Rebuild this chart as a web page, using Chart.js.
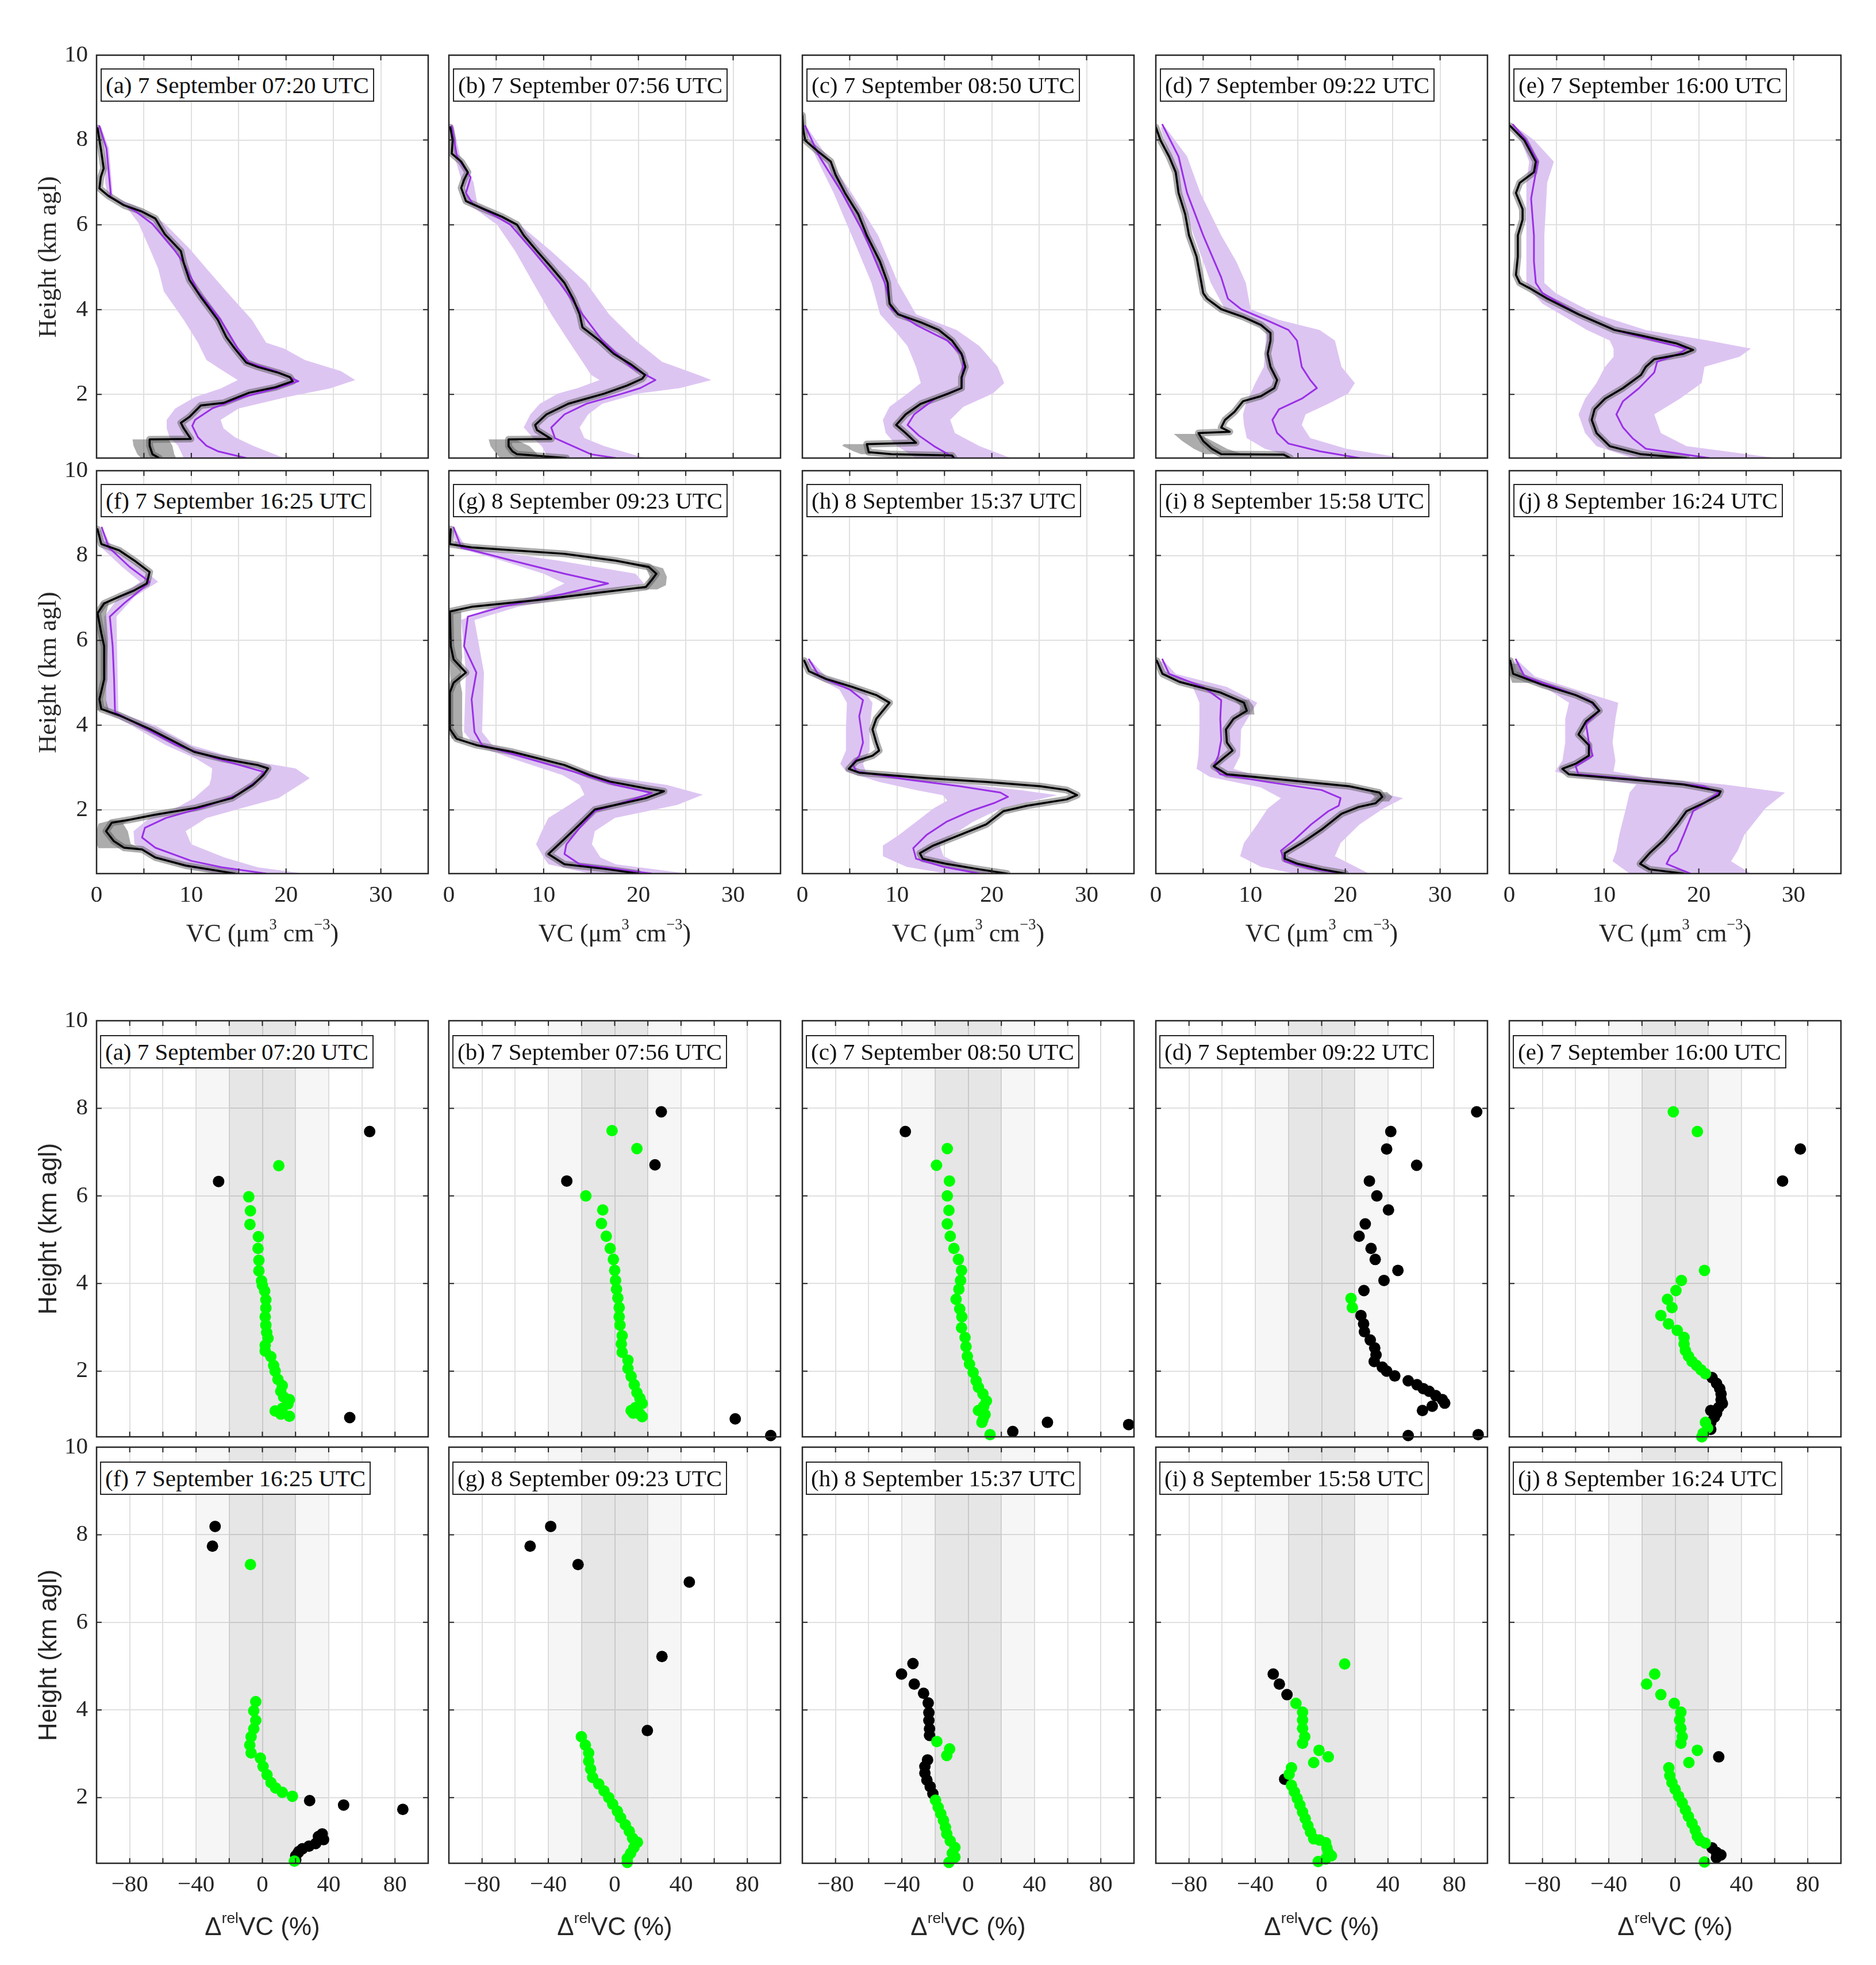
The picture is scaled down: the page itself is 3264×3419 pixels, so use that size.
<!DOCTYPE html>
<html>
<head>
<meta charset="utf-8">
<script src="https://cdn.jsdelivr.net/npm/chart.js@4.4.1/dist/chart.umd.min.js"></script>
<style>
html,body{margin:0;padding:0;background:#fff;}
body{position:relative;width:3264px;height:3419px;overflow:hidden;}
canvas{position:absolute;}
.tbox{position:absolute;z-index:5;background:#fff;border:2px solid #262626;font-family:"Liberation Serif",serif;font-size:41px;line-height:54px;padding:0 7px;white-space:nowrap;color:#111;}
.ytitle{position:absolute;z-index:5;width:700px;height:60px;line-height:60px;text-align:center;font-size:44px;color:#262626;transform:rotate(-90deg);white-space:nowrap;}
.xtitle{position:absolute;z-index:5;height:70px;line-height:70px;text-align:center;font-size:44px;color:#262626;white-space:nowrap;}
.serif{font-family:"Liberation Serif",serif;}
.sans{font-family:"Liberation Sans",sans-serif;}
sup{font-size:0.6em;vertical-align:0;position:relative;top:-0.8em;line-height:0;}
</style>
</head>
<body>
<script>
// ---------------- DATA ----------------
const LABELS = ['(a) 7 September 07:20 UTC','(b) 7 September 07:56 UTC','(c) 7 September 08:50 UTC','(d) 7 September 09:22 UTC','(e) 7 September 16:00 UTC','(f) 7 September 16:25 UTC','(g) 8 September 09:23 UTC','(h) 8 September 15:37 UTC','(i) 8 September 15:58 UTC','(j) 8 September 16:24 UTC'];

const TOP_X_GRID = [0,5,10,15,20,25,30,35];
const TOP_X_LABELS = [0,10,20,30];
const BOT_X_GRID = [-100,-80,-60,-40,-20,0,20,40,60,80,100];
const BOT_X_LABELS = [-80,-40,0,40,80];
const Y_TICKS = [2,4,6,8,10];
const Y_MIN = 0.5, Y_MAX = 10;
const BAND_OUTER = [-40,40];
const BAND_INNER = [-20,20];

// profiles: [height km, VC]
const A_BLACK = [[0.5,6.6],[0.59,5.9],[0.79,5.6],[0.94,5.6],[0.95,9.95],[1.2,9.2],[1.33,8.9],[1.47,9.8],[1.74,11.0],[1.8,13.4],[2.04,16.1],[2.17,18.9],[2.31,20.7],[2.41,20.4],[2.51,19.2],[2.65,17.0],[2.75,15.8],[3.08,14.6],[3.35,13.7],[3.76,12.8],[4.3,11.0],[4.7,9.8],[5.1,9.2],[5.38,8.9],[5.78,7.2],[6.15,6.2],[6.32,4.7],[6.46,2.9],[6.69,1.2],[6.86,0.3],[7.13,0.45],[7.33,0.75],[7.8,0.45],[8.28,0.1]];
const A_PURPLE = [[0.5,15.8],[0.66,12.8],[0.79,11.6],[0.99,10.7],[1.26,10.1],[1.4,10.4],[1.67,12.2],[1.94,15.5],[2.14,18.9],[2.31,21.3],[2.55,18.9],[2.75,16.1],[3.08,14.9],[3.76,13.1],[4.43,10.7],[5.1,9.2],[5.38,8.3],[6.02,5.9],[6.32,4.1],[6.66,1.35],[6.73,1.5],[7.8,1.05],[8.33,0.3]];
const A_BAND = [[0.5,9.2,19.8],[0.79,8.6,16.5],[0.99,7.7,14.6],[1.2,7.4,13.4],[1.4,7.4,13.1],[1.67,8.3,15.0],[1.94,10.4,20.1],[2.14,13.1,24.6],[2.34,14.9,27.3],[2.55,13.4,25.8],[2.81,11.6,22.0],[3.08,11.0,19.8],[3.22,10.7,17.9],[3.76,9.2,16.4],[4.43,7.1,13.7],[4.97,6.5,11.6],[5.44,5.6,9.8],[6.05,4.4,7.1],[6.46,3.0,4.0],[6.66,1.2,1.7],[7.0,0.9,1.6],[7.8,0.8,1.3],[8.3,0.1,0.5]];
const A_GRAY = [[[0.5,4.7,8.4],[0.59,4.3,8.2],[0.79,3.9,8.0],[0.94,3.8,7.6]]];

const B_BLACK = [[0.5,12.4],[0.59,7.2],[0.66,6.7],[0.78,6.3],[0.94,6.3],[0.95,10.8],[1.16,9.3],[1.28,9.1],[1.53,10.3],[1.78,12.6],[2.02,16.4],[2.21,18.8],[2.37,20.4],[2.46,20.7],[2.71,19.2],[2.96,17.4],[3.27,15.9],[3.58,14.1],[3.89,13.8],[4.26,13.1],[4.63,12.2],[5.0,10.8],[5.38,9.3],[5.75,7.9],[6.0,7.2],[6.19,5.6],[6.37,3.7],[6.56,1.8],[6.87,1.3],[7.06,1.6],[7.24,2.0],[7.49,1.3],[7.68,0.3],[7.99,0.4],[8.3,0.15]];
const B_PURPLE = [[0.5,17.6],[0.59,15.0],[0.78,13.1],[0.97,11.2],[1.22,10.8],[1.53,12.2],[1.78,14.5],[2.02,18.3],[2.15,20.2],[2.34,21.8],[2.65,19.2],[3.27,16.2],[3.89,14.1],[4.63,11.7],[5.38,8.9],[6.0,6.5],[6.25,4.6],[6.5,2.5],[6.75,1.8],[7.12,2.3],[7.61,0.85],[8.33,0.3]];
const B_BAND = [[0.5,10.5,20.7],[0.78,9.8,16.4],[0.97,8.9,14.3],[1.22,7.9,13.8],[1.53,8.6,14.7],[1.78,9.6,16.2],[2.02,11.5,20.0],[2.15,13.6,24.4],[2.34,15.9,27.7],[2.46,15.0,26.3],[2.77,14.1,22.5],[3.27,12.6,19.7],[3.89,10.8,16.9],[4.63,8.9,14.5],[5.38,7.0,10.8],[6.0,5.1,7.5],[6.5,2.0,3.0],[7.0,1.4,2.6],[7.6,0.6,1.2],[8.3,0.1,0.5]];
const B_GRAY = [[[0.5,5.4,9.5],[0.6,5.0,9.3],[0.78,4.4,8.5],[0.94,4.2,7.0]]];

const C_BLACK = [[0.5,16.0],[0.56,15.8],[0.59,9.4],[0.64,7.0],[0.83,6.8],[0.86,12.0],[1.09,10.9],[1.28,9.9],[1.53,10.9],[1.78,12.5],[2.02,15.4],[2.15,16.8],[2.4,16.8],[2.65,17.2],[2.96,16.8],[3.27,15.8],[3.52,14.4],[3.7,12.5],[3.89,10.1],[4.14,9.2],[4.63,9.0],[5.13,8.2],[5.75,6.8],[6.25,5.9],[6.75,4.5],[7.18,3.5],[7.49,3.0],[7.74,1.6],[7.99,0.3],[8.24,0.1],[8.58,0.0]];
const C_PURPLE = [[0.5,16.1],[0.78,13.9],[1.03,12.3],[1.28,11.1],[1.53,11.8],[1.9,14.0],[2.15,16.8],[2.89,17.0],[3.27,15.3],[3.64,12.0],[4.01,9.4],[4.63,8.7],[5.75,6.6],[6.75,4.2],[7.61,1.8],[8.33,0.3]];
const C_BAND = [[0.5,12.0,22.0],[0.78,10.0,18.7],[1.09,8.8,16.1],[1.4,8.5,15.6],[1.71,9.2,17.0],[2.02,11.1,20.1],[2.27,12.5,21.3],[2.65,12.0,20.6],[3.14,11.1,18.7],[3.52,9.7,16.3],[3.89,8.2,12.0],[4.63,7.3,10.1],[5.75,5.2,8.0],[6.75,3.3,5.2],[7.61,1.4,2.6],[8.3,0.1,0.5]];
const C_GRAY = [[[0.59,6.2,7.2],[0.66,5.4,7.1],[0.79,4.2,7.0],[0.83,4.4,6.9]]];

const D_BLACK = [[0.5,14.2],[0.58,13.5],[0.59,6.9],[0.72,5.9],[0.9,5.0],[1.09,4.5],[1.12,7.8],[1.22,6.9],[1.4,7.3],[1.59,8.3],[1.84,9.2],[1.96,11.1],[2.15,12.5],[2.34,12.8],[2.65,12.1],[2.96,11.8],[3.27,12.1],[3.45,12.1],[3.64,11.1],[3.83,9.2],[4.01,6.9],[4.26,5.4],[4.39,5.0],[4.76,4.7],[5.25,4.3],[5.75,3.5],[6.25,3.1],[6.75,2.4],[7.24,2.1],[7.61,1.4],[7.99,0.5],[8.3,0.0]];
const D_PURPLE = [[0.5,21.5],[0.66,17.3],[0.84,14.0],[1.09,12.8],[1.4,12.3],[1.65,13.0],[1.9,15.4],[2.15,17.0],[2.34,16.3],[2.65,15.4],[3.27,14.9],[3.52,14.0],[3.76,11.6],[4.01,9.0],[4.26,7.6],[4.76,6.9],[5.75,5.0],[6.75,3.3],[7.61,2.4],[8.36,0.7]];
const D_BAND = [[0.5,14.9,26.2],[0.72,11.5,20.1],[0.97,9.6,16.3],[1.28,9.3,15.4],[1.53,9.2,15.8],[1.78,9.5,18.2],[2.02,10.0,20.3],[2.27,10.5,21.0],[2.65,11.4,19.6],[3.27,11.6,18.9],[3.52,11.6,17.3],[3.76,9.7,13.0],[4.01,7.3,10.0],[4.63,5.8,9.5],[5.13,5.0,8.5],[5.75,4.0,6.9],[6.75,2.6,4.7],[7.61,1.4,3.3],[8.3,0.5,1.0]];
const D_GRAY = [[[0.59,5.2,9.2],[0.72,4.0,7.5],[0.9,2.8,6.0],[1.07,1.9,4.5]]];

const E_BLACK = [[0.5,18.7],[0.59,13.9],[0.78,10.6],[1.09,9.2],[1.4,8.7],[1.65,9.0],[1.9,10.1],[2.15,12.0],[2.46,13.9],[2.65,14.4],[2.83,15.3],[2.96,18.4],[3.05,19.4],[3.2,17.7],[3.39,13.9],[3.52,11.1],[3.89,7.3],[4.26,4.0],[4.51,2.1],[4.63,1.1],[4.82,0.7],[5.25,0.9],[5.75,0.9],[6.12,1.4],[6.37,1.4],[6.75,0.7],[6.99,1.1],[7.24,2.6],[7.49,2.8],[7.99,1.6],[8.33,0.1]];
const E_PURPLE = [[0.5,21.1],[0.72,14.4],[0.97,13.0],[1.22,12.0],[1.53,11.3],[1.84,12.0],[2.15,13.7],[2.52,15.3],[2.77,15.6],[2.96,17.9],[3.08,18.7],[3.27,15.3],[3.52,11.1],[3.89,7.3],[4.39,3.5],[4.63,2.8],[5.13,2.6],[5.75,2.6],[6.62,2.3],[6.99,2.6],[7.49,3.0],[7.99,1.8],[8.36,0.4]];
const E_BAND = [[0.5,13.0,28.2],[0.78,9.2,18.7],[1.09,8.0,16.0],[1.53,7.3,15.3],[1.9,8.0,18.0],[2.27,9.2,20.3],[2.65,10.1,20.6],[2.89,11.0,24.3],[3.08,11.0,25.5],[3.27,10.6,21.0],[3.52,8.2,14.4],[3.89,5.4,9.2],[4.14,3.5,7.0],[4.39,2.5,4.9],[4.63,1.8,3.7],[5.75,1.8,3.7],[6.99,1.8,4.0],[7.49,2.1,4.7],[8.0,1.2,2.6],[8.33,0.2,0.6]];
const E_GRAY = [];

const F_BLACK = [[0.5,14.6],[0.69,9.4],[0.88,6.2],[1.07,4.8],[1.11,2.9],[1.27,1.8],[1.5,1.0],[1.7,1.6],[1.77,3.5],[1.89,6.2],[2.05,10.5],[2.28,14.3],[2.59,16.5],[2.82,17.6],[2.98,18.1],[3.06,17.0],[3.21,13.2],[3.37,10.3],[3.53,8.9],[3.91,5.6],[4.23,2.4],[4.38,0.5],[4.61,0.3],[5.08,0.8],[5.86,0.8],[6.17,0.5],[6.64,0.1],[6.87,0.8],[7.03,2.4],[7.18,4.0],[7.34,5.3],[7.61,5.6],[7.88,4.0],[8.12,2.4],[8.27,0.5],[8.62,0.1]];
const F_PURPLE = [[0.5,17.9],[0.65,13.2],[0.8,10.0],[1.11,6.2],[1.35,4.8],[1.58,5.1],[1.81,7.3],[2.05,11.1],[2.36,14.9],[2.75,17.3],[2.9,17.6],[3.21,12.7],[3.53,8.4],[3.99,4.6],[4.3,1.95],[5.08,1.85],[5.86,1.7],[6.56,1.4],[6.87,2.9],[7.18,4.6],[7.38,5.6],[7.73,3.5],[8.19,1.3],[8.66,0.55]];
const F_BAND = [[0.5,12.7,21.9],[0.65,9.4,17.0],[0.88,6.2,13.5],[1.19,4.0,10.0],[1.5,3.9,9.4],[1.81,5.6,11.6],[2.05,8.4,15.4],[2.28,10.3,19.2],[2.59,11.9,21.4],[2.75,12.1,22.5],[2.98,12.2,21.0],[3.21,10.5,14.9],[3.53,7.3,10.0],[3.99,3.7,6.2],[4.3,1.0,2.3],[6.56,0.8,2.1],[7.03,2.4,4.0],[7.38,4.6,6.5],[7.73,2.7,4.6],[8.19,0.5,1.6],[8.6,0.3,0.7]];
const F_GRAY = [[[1.1,0.2,4.6],[1.2,0.0,3.6],[1.5,0.0,3.3],[1.68,0.2,2.8],[1.76,1.6,3.6]],[[4.35,0.0,1.3],[4.6,0.0,1.0],[5.0,0.0,1.0],[6.0,0.0,1.2],[6.6,0.0,1.0],[6.9,0.5,1.3]]];

const G_BLACK = [[0.5,20.0],[0.61,16.5],[0.72,12.2],[0.96,10.5],[1.19,11.6],[1.66,13.8],[2.01,15.4],[2.12,17.6],[2.28,20.8],[2.44,22.7],[2.51,20.8],[2.67,17.0],[2.82,14.9],[3.06,12.2],[3.37,6.7],[3.53,2.9],[3.68,0.8],[3.91,0.1],[4.77,0.1],[5.0,0.5],[5.24,1.8],[5.55,0.5],[5.86,0.2],[6.68,0.1],[6.79,2.4],[6.95,9.4],[7.1,14.9],[7.26,20.8],[7.42,21.4],[7.57,21.9],[7.73,21.1],[7.88,17.6],[8.04,12.2],[8.19,2.4],[8.27,0.1],[8.62,0.2]];
const G_PURPLE = [[0.5,21.4],[0.61,17.6],[0.72,13.8],[0.96,12.2],[1.19,12.4],[1.58,13.8],[1.97,15.4],[2.2,18.7],[2.4,21.4],[2.59,17.6],[2.9,13.2],[3.21,8.4],[3.53,3.5],[3.84,2.7],[4.61,2.4],[5.24,2.9],[5.86,1.6],[6.56,2.0],[6.79,5.6],[7.1,12.2],[7.34,16.8],[7.57,12.2],[7.88,6.7],[8.19,1.3],[8.66,0.5]];
const G_BAND = [[0.5,14.9,25.2],[0.72,10.5,17.6],[0.88,10.0,16.0],[1.19,9.2,15.1],[1.5,9.8,15.4],[1.81,10.5,17.5],[2.12,12.7,24.1],[2.36,14.3,26.8],[2.59,13.8,23.0],[2.82,12.0,16.0],[3.21,6.7,10.0],[3.53,2.7,4.6],[3.84,1.6,3.5],[5.24,1.8,3.7],[6.48,1.3,2.7],[6.79,4.6,7.3],[7.1,10.0,14.9],[7.34,12.2,20.6],[7.57,10.0,19.7],[7.88,5.6,11.6],[8.19,0.8,1.8],[8.6,0.3,0.7]];
const G_GRAY = [[[7.2,20.0,22.0],[7.3,20.8,22.9],[7.5,21.2,23.0],[7.7,20.8,22.6],[7.8,19.0,21.0]],[[3.68,0.3,1.5],[3.9,0.0,1.4],[4.4,0.0,1.4],[4.77,0.0,1.4],[5.0,0.2,1.2],[5.6,0.0,1.4],[6.2,0.0,1.3],[6.68,0.0,1.3]]];

const H_BLACK = [[0.5,21.6],[0.6,18.7],[0.73,15.2],[0.85,12.7],[0.98,12.4],[1.16,13.8],[1.41,16.6],[1.66,19.4],[1.97,21.2],[2.1,23.7],[2.25,27.9],[2.35,29.0],[2.47,27.9],[2.56,25.1],[2.66,19.4],[2.75,13.1],[2.88,6.0],[2.97,4.9],[3.16,5.7],[3.28,7.4],[3.4,8.1],[3.59,7.8],[3.9,7.4],[4.15,7.8],[4.34,8.5],[4.53,9.2],[4.71,7.8],[4.9,5.3],[5.09,2.5],[5.27,0.7],[5.52,0.2]];
const H_PURPLE = [[0.5,18.7],[0.66,14.9],[0.85,12.0],[1.1,11.7],[1.41,13.1],[1.72,15.2],[1.97,17.7],[2.16,20.2],[2.31,21.7],[2.41,20.9],[2.56,16.6],[2.72,11.0],[2.91,5.7],[3.09,5.3],[3.28,6.0],[3.59,6.4],[4.21,6.0],[4.59,6.4],[4.84,5.0],[5.15,1.8],[5.55,0.7]];
const H_BAND = [[0.5,15.2,20.9],[0.66,11.0,17.3],[0.91,8.5,14.9],[1.16,8.5,14.5],[1.41,10.2,15.9],[1.72,12.0,18.0],[2.03,13.8,20.9],[2.22,15.3,24.4],[2.35,14.8,26.9],[2.47,12.0,23.0],[2.66,8.1,15.2],[2.91,4.6,6.7],[3.09,4.0,6.4],[3.4,4.6,7.1],[3.9,4.6,7.1],[4.53,4.7,7.4],[4.84,3.9,6.4],[5.15,1.2,2.5],[5.5,0.4,1.0]];
const H_GRAY = [];

const I_BLACK = [[0.5,20.0],[0.6,17.5],[0.73,15.0],[0.85,13.6],[0.98,13.6],[1.22,15.4],[1.54,17.5],[1.91,19.6],[2.07,21.4],[2.16,23.2],[2.31,23.9],[2.41,23.6],[2.56,20.4],[2.72,13.2],[2.84,7.5],[3.03,6.1],[3.22,7.1],[3.4,8.1],[3.59,7.5],[3.9,7.4],[4.15,8.2],[4.34,9.6],[4.53,9.3],[4.77,6.8],[5.02,2.5],[5.21,0.7],[5.52,0.1]];
const I_PURPLE = [[0.5,19.6],[0.63,16.1],[0.79,13.6],[1.04,13.2],[1.29,14.6],[1.66,16.4],[1.97,18.2],[2.1,19.3],[2.28,19.5],[2.47,17.5],[2.66,11.8],[2.84,6.8],[3.03,6.1],[3.28,6.6],[3.65,6.9],[4.15,6.8],[4.59,6.9],[4.9,5.0],[5.21,1.4],[5.55,0.7]];
const I_BAND = [[0.5,14.6,22.5],[0.66,11.1,21.1],[0.91,8.9,18.9],[1.22,9.3,19.5],[1.66,10.7,21.5],[2.03,11.8,24.0],[2.28,13.2,26.1],[2.53,11.1,21.2],[2.72,7.0,15.0],[2.78,5.7,11.0],[2.97,4.3,8.2],[3.28,4.5,8.9],[3.9,4.6,9.0],[4.53,4.6,10.7],[4.9,3.9,7.5],[5.21,0.7,2.1],[5.5,0.3,0.9]];
const I_GRAY = [[[2.2,22.6,24.6],[2.31,23.1,25.0],[2.42,22.6,24.4]],[[4.25,8.8,10.4],[4.45,8.9,10.3],[4.6,8.3,9.8]]];

const J_BLACK = [[0.5,18.4],[0.6,14.8],[0.73,13.8],[0.98,14.8],[1.29,16.3],[1.66,17.7],[1.97,18.7],[2.16,20.5],[2.35,22.1],[2.44,22.3],[2.6,18.4],[2.72,12.7],[2.84,6.3],[2.97,5.6],[3.09,7.0],[3.28,8.4],[3.53,8.4],[3.78,7.3],[4.09,8.1],[4.34,9.5],[4.53,8.8],[4.71,7.0],[4.96,3.4],[5.21,0.4],[5.52,0.1]];
const J_PURPLE = [[0.5,19.1],[0.73,16.6],[0.91,17.0],[1.04,17.7],[1.41,18.4],[1.97,19.4],[2.22,20.9],[2.41,22.1],[2.56,20.5],[2.75,12.0],[2.84,7.3],[3.03,7.0],[3.28,8.8],[3.59,8.4],[4.03,8.1],[4.34,9.5],[4.59,8.4],[4.9,4.8],[5.15,1.6],[5.55,0.7]];
const J_BAND = [[0.5,12.7,25.5],[0.79,10.9,23.4],[1.04,11.3,24.1],[1.41,11.6,24.8],[2.03,12.3,27.0],[2.41,12.7,29.1],[2.6,13.4,22.7],[2.78,7.0,14.1],[2.91,4.8,11.0],[3.16,5.6,11.2],[3.59,5.9,10.9],[4.15,5.9,11.2],[4.53,6.3,11.5],[4.84,4.1,7.0],[5.15,0.9,2.7],[5.5,0.4,1.0]];
const J_GRAY = [[[5.0,0.3,3.0],[5.2,0.0,1.6],[5.45,0.0,0.9]]];

// relative differences: [height km, %]
const SA_GREEN = [[6.69,9.9],[5.98,-8.2],[5.66,-7.2],[5.35,-7.5],[5.07,-2.4],[4.80,-2.6],[4.53,-2.1],[4.29,-2.1],[4.06,-0.5],[3.96,0.0],[3.83,1.4],[3.63,2.1],[3.44,2.1],[3.24,1.7],[3.05,2.1],[2.88,2.6],[2.75,3.4],[2.59,1.7],[2.46,1.7],[2.33,5.1],[2.13,6.8],[2.0,7.7],[1.81,9.4],[1.67,12.0],[1.54,11.1],[1.41,12.8],[1.35,16.3],[1.25,15.4],[1.15,12.0],[1.09,7.7],[1.02,11.1],[0.97,16.3]];
const SA_BLACK = [[7.47,64.7],[6.33,-26.4],[0.94,52.7]];
const SB_GREEN = [[7.49,-1.6],[7.08,13.4],[6.0,-17.4],[5.68,-7.2],[5.37,-8.0],[5.08,-5.1],[4.80,-2.7],[4.55,-0.8],[4.30,0.0],[4.07,0.5],[3.87,1.1],[3.67,1.9],[3.45,2.7],[3.24,2.7],[3.05,3.2],[2.81,4.5],[2.62,4.0],[2.43,4.5],[2.25,8.0],[2.06,8.0],[1.88,9.9],[1.69,11.8],[1.51,13.4],[1.38,15.2],[1.26,16.6],[1.17,12.6],[1.10,9.9],[1.04,11.2],[1.02,15.2],[0.96,16.6]];
const SB_BLACK = [[7.92,28.1],[6.71,24.3],[6.34,-28.9],[0.91,72.7],[0.53,94.1]];
const SC_GREEN = [[7.08,-12.6],[6.70,-19.1],[6.34,-11.3],[6.0,-12.6],[5.67,-11.6],[5.36,-12.6],[5.08,-10.8],[4.80,-8.6],[4.55,-5.9],[4.30,-4.0],[4.07,-4.6],[3.87,-5.6],[3.64,-7.3],[3.42,-5.1],[3.24,-3.8],[2.99,-4.0],[2.77,-1.9],[2.56,-1.3],[2.34,-0.5],[2.16,0.8],[1.97,3.0],[1.78,4.8],[1.63,6.2],[1.48,8.9],[1.32,11.0],[1.20,9.4],[1.10,6.2],[1.01,10.2],[0.89,8.9],[0.83,8.3],[0.55,13.2]];
const SC_BLACK = [[7.47,-37.9],[0.62,26.9],[0.83,47.8],[0.78,96.8]];
const SD_GREEN = [[3.66,17.7],[3.45,18.5]];
const SD_BLACK = [[7.92,93.5],[7.47,41.7],[7.07,39.2],[6.70,57.3],[6.34,28.8],[6.00,33.3],[5.68,40.3],[5.36,26.3],[5.08,22.6],[4.80,29.8],[4.55,32.3],[4.30,46.0],[4.07,37.6],[3.84,25.5],[3.27,23.7],[3.08,25.3],[2.90,25.8],[2.71,29.3],[2.53,32.0],[2.37,32.8],[2.22,31.7],[2.09,36.6],[2.0,39.2],[1.89,44.1],[1.78,52.2],[1.69,57.5],[1.60,61.3],[1.54,64.8],[1.44,68.8],[1.35,72.8],[1.27,74.2],[1.20,66.7],[1.10,60.8],[0.53,52.2],[0.55,94.4]];
const SE_GREEN = [[7.92,-1.1],[7.47,13.4],[4.30,17.7],[4.07,3.8],[3.84,0.5],[3.64,-4.6],[3.45,-1.9],[3.27,-8.6],[3.08,-4.0],[2.93,1.3],[2.77,5.4],[2.62,5.4],[2.47,6.2],[2.34,8.1],[2.22,10.2],[2.13,12.9],[2.03,15.6],[1.94,18.3],[0.83,18.3],[0.70,19.6],[0.58,16.9],[0.50,16.1]];
const SE_BLACK = [[7.07,75.5],[6.34,64.8],[1.85,22.3],[1.72,25.0],[1.60,26.9],[1.48,27.7],[1.35,27.7],[1.26,28.5],[1.17,26.3],[1.10,21.5],[1.04,25.0],[0.95,23.7],[0.83,21.5],[0.67,21.5]];
const SF_GREEN = [[7.32,-7.2],[4.19,-4.0],[3.98,-5.2],[3.76,-4.0],[3.57,-5.2],[3.39,-6.8],[3.20,-7.6],[3.02,-6.8],[2.90,-1.2],[2.71,0.4],[2.52,2.8],[2.34,5.2],[2.22,8.0],[2.12,12.0],[2.03,18.1],[0.55,19.3]];
const SF_BLACK = [[8.19,-28.5],[7.74,-30.1],[1.93,28.5],[1.83,49.0],[1.73,84.7],[1.17,36.1],[1.11,33.8],[1.04,36.9],[0.95,32.1],[0.89,28.1],[0.83,24.1],[0.77,22.1],[0.74,21.5],[0.67,20.1],[0.58,20.1]];
const SG_GREEN = [[3.39,-20.1],[3.20,-17.7],[3.02,-15.7],[2.83,-15.7],[2.65,-14.5],[2.46,-13.3],[2.31,-9.6],[2.15,-6.4],[2.0,-3.6],[1.85,-1.2],[1.69,1.6],[1.54,3.6],[1.38,6.4],[1.23,8.8],[1.07,10.8],[0.98,13.7],[0.86,11.6],[0.73,9.6],[0.61,7.6],[0.52,7.6]];
const SG_BLACK = [[8.19,-38.6],[7.74,-51.0],[7.32,-22.1],[6.92,45.0],[5.22,28.5],[3.53,19.7]];
const SH_GREEN = [[3.28,-18.9],[3.11,-11.2],[2.96,-12.9],[1.94,-19.7],[1.78,-18.1],[1.63,-16.5],[1.48,-14.9],[1.32,-13.7],[1.17,-12.9],[1.01,-10.8],[0.86,-8.0],[0.73,-9.6],[0.64,-8.0],[0.52,-11.6]];
const SH_BLACK = [[5.06,-33.3],[4.82,-40.2],[4.59,-32.5],[4.38,-26.9],[4.16,-24.1],[3.94,-23.7],[3.76,-23.7],[3.57,-23.3],[3.42,-23.3],[2.86,-24.5],[2.71,-26.1],[2.56,-26.1],[2.40,-24.9],[2.25,-22.9],[2.09,-21.3]];
const SI_GREEN = [[5.05,13.9],[4.15,-15.5],[3.95,-11.5],[3.77,-11.5],[3.58,-11.5],[3.39,-10.2],[3.24,-11.5],[3.08,-1.6],[2.93,4.0],[2.80,-4.8],[2.68,-18.2],[2.53,-19.6],[2.28,-18.2],[2.13,-16.4],[1.98,-14.7],[1.83,-13.1],[1.67,-11.5],[1.52,-9.9],[1.36,-8.3],[1.21,-6.7],[1.06,-4.8],[1.03,-1.3],[0.97,2.4],[0.85,3.2],[0.75,4.0],[0.67,5.9],[0.60,2.4],[0.54,-2.1]];
const SI_BLACK = [[4.82,-29.2],[4.59,-25.5],[4.35,-20.9],[2.42,-22.3]];
const SJ_GREEN = [[4.82,-12.3],[4.59,-17.2],[4.35,-8.6],[4.15,-0.5],[3.95,3.5],[3.77,2.7],[3.58,3.5],[3.39,4.3],[3.24,3.5],[3.08,13.4],[2.80,8.3],[2.68,-3.8],[2.50,-3.2],[2.34,-1.9],[2.19,0.0],[2.03,2.1],[1.88,4.3],[1.72,6.2],[1.57,8.0],[1.41,10.2],[1.26,12.1],[1.11,13.4],[1.02,15.0],[0.96,18.2],[0.53,17.7]];
const SJ_BLACK = [[2.93,26.3],[0.85,22.3],[0.75,24.9],[0.69,27.6],[0.63,24.9]];

const TOP = [
  {black:A_BLACK,purple:A_PURPLE,band:A_BAND,gray:A_GRAY},
  {black:B_BLACK,purple:B_PURPLE,band:B_BAND,gray:B_GRAY},
  {black:C_BLACK,purple:C_PURPLE,band:C_BAND,gray:C_GRAY},
  {black:D_BLACK,purple:D_PURPLE,band:D_BAND,gray:D_GRAY},
  {black:E_BLACK,purple:E_PURPLE,band:E_BAND,gray:E_GRAY},
  {black:F_BLACK,purple:F_PURPLE,band:F_BAND,gray:F_GRAY},
  {black:G_BLACK,purple:G_PURPLE,band:G_BAND,gray:G_GRAY},
  {black:H_BLACK,purple:H_PURPLE,band:H_BAND,gray:H_GRAY},
  {black:I_BLACK,purple:I_PURPLE,band:I_BAND,gray:I_GRAY},
  {black:J_BLACK,purple:J_PURPLE,band:J_BAND,gray:J_GRAY}
];
const BOT = [
  {green:SA_GREEN,black:SA_BLACK},{green:SB_GREEN,black:SB_BLACK},{green:SC_GREEN,black:SC_BLACK},
  {green:SD_GREEN,black:SD_BLACK},{green:SE_GREEN,black:SE_BLACK},{green:SF_GREEN,black:SF_BLACK},
  {green:SG_GREEN,black:SG_BLACK},{green:SH_GREEN,black:SH_BLACK},{green:SI_GREEN,black:SI_BLACK},
  {green:SJ_GREEN,black:SJ_BLACK}
];

// ---------------- LAYOUT / STYLE ----------------
const COL_X = [168, 781, 1396, 2011, 2626];
const PANEL_W = 577;
const TOP_ROW_Y = [96, 819], TOP_H = 701;
const BOT_ROW_Y = [1776, 2518], BOT_H = 724;
const GRID = '#e0e0e0';
const AX = '#262626';
const PURPLE = '#9a30e6';
const BAND_COLOR = '#ddc5f2';
const GRAY_COLOR = 'rgba(90,90,90,0.5)';
const TICK_FONT = {family:'"Liberation Serif", serif', size:41};

Chart.defaults.font.family = '"Liberation Serif", serif';

function fmt(v){ return v < 0 ? '\u2212' + Math.abs(v) : String(v); }
const pts = rows => rows.map(r => ({x:r[1], y:r[0]}));
const bandPoly = rows => rows.map(r => ({x:r[1], y:r[0]})).concat(rows.slice().reverse().map(r => ({x:r[2], y:r[0]})));
const rectPoly = b => [{x:b[0],y:Y_MIN},{x:b[0],y:Y_MAX},{x:b[1],y:Y_MAX},{x:b[1],y:Y_MIN}];

const boxPlugin = {
  id:'axbox',
  afterDatasetsDraw(chart, args, o){
    const {ctx, chartArea:a, scales} = chart;
    const x = scales.x, y = scales.y;
    ctx.save();
    ctx.strokeStyle = AX; ctx.lineWidth = 2;
    const L = 9;
    ctx.beginPath();
    o.xt.forEach(v => { const p = x.getPixelForValue(v); ctx.moveTo(p, a.bottom); ctx.lineTo(p, a.bottom - L); ctx.moveTo(p, a.top); ctx.lineTo(p, a.top + L); });
    o.yt.forEach(v => { const p = y.getPixelForValue(v); ctx.moveTo(a.left, p); ctx.lineTo(a.left + L, p); ctx.moveTo(a.right, p); ctx.lineTo(a.right - L, p); });
    ctx.stroke();
    ctx.lineWidth = 2.5;
    ctx.strokeRect(a.left, a.top, a.right - a.left, a.bottom - a.top);
    ctx.restore();
  }
};

function addChart(cfg){
  const {col, top, h, xMin, xMax, xGrid, xLab, datasets, showX} = cfg;
  const padL = col === 0 ? 140 : 40, padR = 14, padT = 40, padB = showX ? 85 : 20;
  const W = padL + PANEL_W + padR, H = padT + h + padB;
  const cv = document.createElement('canvas');
  cv.width = W; cv.height = H;
  cv.style.left = (COL_X[col] - padL) + 'px';
  cv.style.top = (top - padT) + 'px';
  cv.style.width = W + 'px'; cv.style.height = H + 'px';
  document.body.appendChild(cv);
  new Chart(cv, {
    type:'scatter',
    data:{datasets},
    options:{
      responsive:false, animation:false, devicePixelRatio:1, events:[],
      layout:{padding:{left:0, right:padR, top:padT, bottom:0}},
      plugins:{legend:{display:false}, tooltip:{enabled:false}, axbox:{xt:xGrid, yt:Y_TICKS}},
      scales:{
        x:{type:'linear', position:'bottom', min:xMin, max:xMax,
           afterBuildTicks:s => { s.ticks = xGrid.map(v => ({value:v})); },
           afterFit:s => { s.height = padB; s.paddingLeft = 0; s.paddingRight = 0; },
           grid:{color:GRID, lineWidth:2, drawTicks:false},
           border:{display:false},
           ticks:{display:showX, padding:14, font:TICK_FONT, color:AX, maxRotation:0, minRotation:0, autoSkip:false,
                  callback:v => xLab.includes(v) ? fmt(v) : ''}},
        y:{type:'linear', position:'left', min:Y_MIN, max:Y_MAX,
           afterBuildTicks:s => { s.ticks = Y_TICKS.map(v => ({value:v})); },
           afterFit:s => { s.width = padL; s.paddingTop = 0; s.paddingBottom = 0; },
           grid:{color:GRID, lineWidth:2, drawTicks:false},
           border:{display:false},
           ticks:{display:col === 0, padding:15, font:TICK_FONT, color:AX, autoSkip:false,
                  callback:v => fmt(v)}}
      }
    },
    plugins:[boxPlugin]
  });
}

function lineDs(rows, color, width, order){
  return {type:'line', data:pts(rows), borderColor:color, borderWidth:width, pointRadius:0, fill:false, tension:0,
          borderJoinStyle:'round', borderCapStyle:'round', order};
}
function fillDs(poly, color, order){
  return {type:'line', data:poly, fill:'shape', backgroundColor:color, borderColor:'rgba(0,0,0,0)', borderWidth:0, pointRadius:0, tension:0, order};
}

function addDiv(cls, html, style){
  const d = document.createElement('div');
  d.className = cls; d.innerHTML = html;
  Object.assign(d.style, style);
  document.body.appendChild(d);
}

// ---------------- TOP SECTION ----------------
TOP.forEach((p, i) => {
  const col = i % 5, row = Math.floor(i / 5);
  const ds = [fillDs(bandPoly(p.band), BAND_COLOR, 6)];
  p.gray.forEach(g => ds.push(fillDs(bandPoly(g), GRAY_COLOR, 5)));
  ds.push(lineDs(p.black, GRAY_COLOR, 12, 4));
  ds.push(lineDs(p.purple, PURPLE, 3, 3));
  ds.push(lineDs(p.black, '#000', 3.5, 2));
  addChart({col, top:TOP_ROW_Y[row], h:TOP_H, xMin:0, xMax:35, xGrid:TOP_X_GRID, xLab:TOP_X_LABELS, datasets:ds, showX: row === 1});
  addDiv('tbox', LABELS[i], {left:(COL_X[col] + 7) + 'px', top:(TOP_ROW_Y[row] + 23) + 'px'});
});

// ---------------- BOTTOM SECTION ----------------
BOT.forEach((p, i) => {
  const col = i % 5, row = Math.floor(i / 5);
  const ds = [
    fillDs(rectPoly(BAND_OUTER), 'rgba(0,0,0,0.035)', 6),
    fillDs(rectPoly(BAND_INNER), 'rgba(0,0,0,0.065)', 5),
    {type:'scatter', data:pts(p.black), backgroundColor:'#000', pointRadius:10, borderWidth:0, clip:false, order:3},
    {type:'scatter', data:pts(p.green), backgroundColor:'#00ff00', pointRadius:10, borderWidth:0, clip:false, order:2}
  ];
  addChart({col, top:BOT_ROW_Y[row], h:BOT_H, xMin:-100, xMax:100, xGrid:BOT_X_GRID, xLab:BOT_X_LABELS, datasets:ds, showX: row === 1});
  addDiv('tbox', LABELS[i], {left:(COL_X[col] + 6) + 'px', top:(BOT_ROW_Y[row] + 25) + 'px'});
});

// ---------------- AXIS TITLES ----------------
[TOP_ROW_Y[0] + TOP_H / 2, TOP_ROW_Y[1] + TOP_H / 2].forEach(yc =>
  addDiv('ytitle serif', 'Height (km agl)', {left:(83 - 350) + 'px', top:(yc - 30) + 'px'}));
[BOT_ROW_Y[0] + BOT_H / 2, BOT_ROW_Y[1] + BOT_H / 2].forEach(yc =>
  addDiv('ytitle sans', 'Height (km agl)', {left:(83 - 350) + 'px', top:(yc - 30) + 'px'}));
COL_X.forEach(x => {
  addDiv('xtitle serif', 'VC (\u03bcm<sup>3</sup> cm<sup>\u22123</sup>)', {left:x + 'px', width:PANEL_W + 'px', top:(1624 - 35) + 'px'});
  addDiv('xtitle sans', '\u0394<sup>rel</sup>VC (%)', {left:x + 'px', width:PANEL_W + 'px', top:(3352 - 35) + 'px'});
});
</script>
</body>
</html>
